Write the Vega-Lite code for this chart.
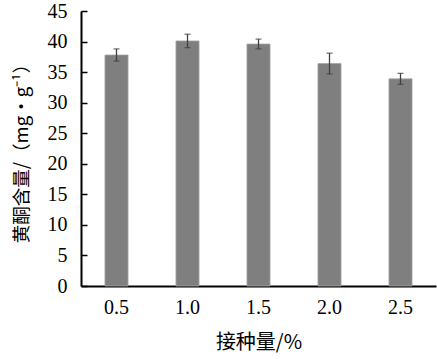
{
  "$schema": "https://vega.github.io/schema/vega-lite/v6.json",
  "width": 355,
  "height": 275,
  "autosize": "none",
  "padding": {"left": 81, "top": 11, "right": 1, "bottom": 73},
  "background": "white",
  "config": {"view": {"stroke": null},
    "axis": {"domainColor": "black", "domainWidth": 2, "labelFont": "Liberation Serif", "labelFontSize": 20, "labelColor": "black",
      "titleFont": "Noto Sans CJK SC", "titleFontSize": 20, "titleFontWeight": "normal", "titleColor": "black"}},
  "data": {"values": [
    {"x": "0.5", "y": 37.8, "e": 1.0},
    {"x": "1.0", "y": 40.1, "e": 1.1},
    {"x": "1.5", "y": 39.6, "e": 0.8},
    {"x": "2.0", "y": 36.4, "e": 1.7},
    {"x": "2.5", "y": 33.9, "e": 0.9}
  ]},
  "encoding": {
    "x": {"field": "x", "type": "ordinal", "sort": null,
      "scale": {"paddingInner": 0.675, "paddingOuter": 0.3375},
      "axis": {"title": "接种量/%", "labelAngle": 0, "ticks": false, "labelPadding": 11, "titlePadding": 15}},
    "y": {"field": "y", "type": "quantitative",
       "scale": {"domain": [0, 45]},
       "axis": {"title": "黄酮含量/（mg•g⁻¹）", "titleFontSize": 18.5, "values": [0,5,10,15,20,25,30,35,40,45], "grid": false,
         "tickSize": -6, "tickColor": "black", "tickWidth": 1.5, "labelPadding": 20, "titlePadding": 16}}
  },
  "layer": [
    {"mark": {"type": "bar", "color": "#7f7f7f", "stroke": "#a6a6a6", "strokeWidth": 0.8}},
    {"mark": {"type": "errorbar", "ticks": {"size": 6, "color": "#404040", "thickness": 1.3}, "rule": {"color": "#404040", "strokeWidth": 1.3}},
     "encoding": {"yError": {"field": "e"}}}
  ]
}
